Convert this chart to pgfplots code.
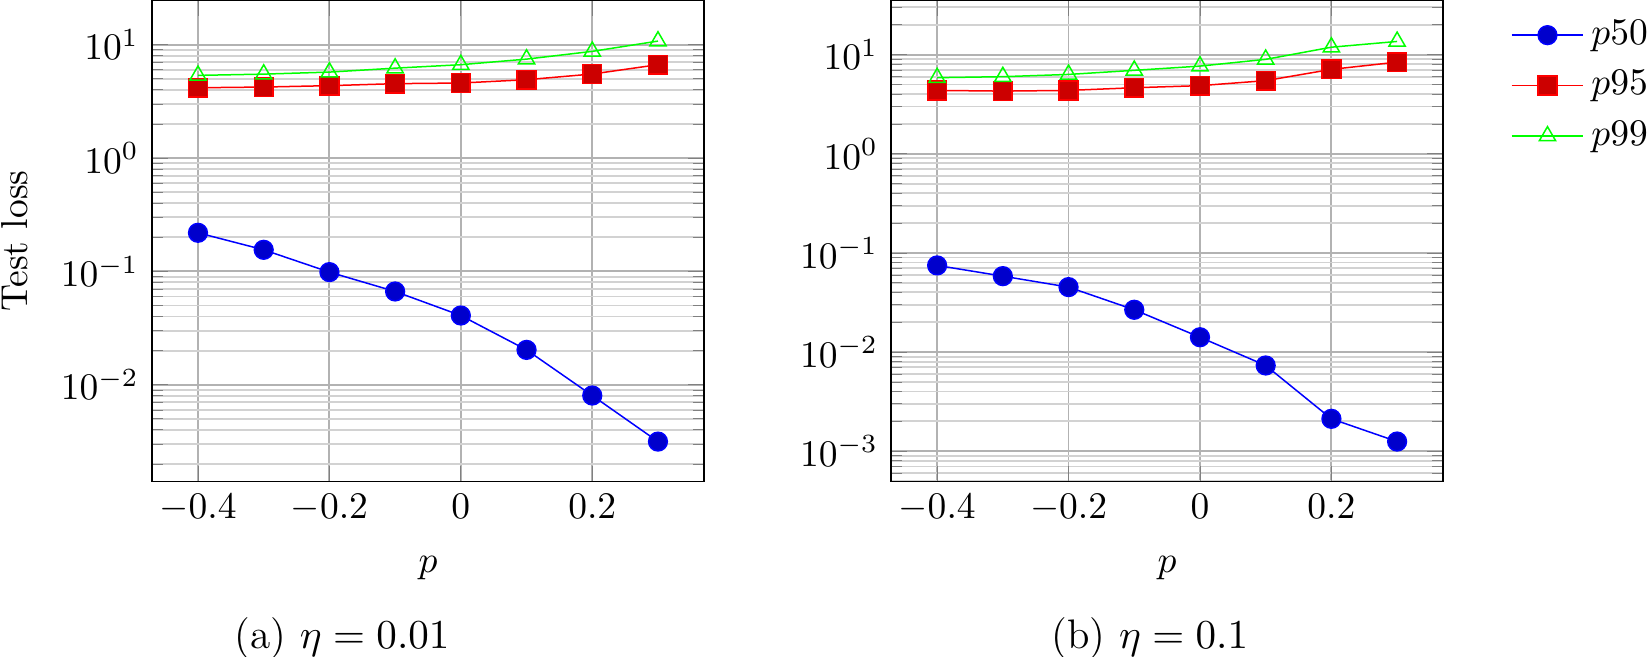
\documentclass[border=0pt]{standalone}
\usepackage{pgfplots}
\pgfplotsset{compat=1.18}
\begin{document}
\begin{tikzpicture}
\begin{axis}[ymode=log, scale only axis, width=147.2pt, height=128.3pt,
    xmin=-0.47, xmax=0.37, xtick={-0.4,-0.2,0,0.2},
    xmajorgrids, ymajorgrids, yminorgrids,
    major grid style={gray!60, line width=0.5pt},
    minor grid style={gray!35, line width=0.5pt},
    xlabel={$p$}, xlabel shift=2.2pt, ylabel shift=2pt,
    at={(0pt,0pt)}, anchor=south west, ymin=1.40e-3, ymax=24.6, ylabel={Test loss}]
\addplot[blue, mark=*, mark size=2.5pt, mark options={solid, fill=blue!80!black}] coordinates {(-0.4,0.219) (-0.3,0.155) (-0.2,0.0985) (-0.1,0.0665) (0,0.0408) (0.1,0.0203) (0.2,0.00803) (0.3,0.00315)};
\addplot[red, mark=square*, mark size=2.5pt, mark options={solid, fill=red!80!black}] coordinates {(-0.4,4.17) (-0.3,4.23) (-0.2,4.35) (-0.1,4.53) (0,4.59) (0.1,4.91) (0.2,5.51) (0.3,6.66)};
\addplot[green, mark=triangle, mark size=2.5pt, mark options={solid}] coordinates {(-0.4,5.36) (-0.3,5.5) (-0.2,5.73) (-0.1,6.21) (0,6.66) (0.1,7.46) (0.2,8.73) (0.3,10.76)};
\end{axis}
\begin{axis}[ymode=log, scale only axis, width=147.2pt, height=128.3pt,
    xmin=-0.47, xmax=0.37, xtick={-0.4,-0.2,0,0.2},
    xmajorgrids, ymajorgrids, yminorgrids,
    major grid style={gray!60, line width=0.5pt},
    minor grid style={gray!35, line width=0.5pt},
    xlabel={$p$}, xlabel shift=2.2pt,
    at={(197.1pt,0pt)}, anchor=south west, ymin=4.94e-4, ymax=35.3,
    legend style={at={(1,1)}, anchor=north west, xshift=14.9pt, yshift=-1.1pt, draw=none, fill=none, row sep=1.5pt},
    legend cell align=left,
    legend image code/.code={\draw[mark repeat=2,mark phase=2] plot coordinates {(0cm,0cm) (0.335cm,0cm) (0.67cm,0cm)};}]
\addplot[blue, mark=*, mark size=2.5pt, mark options={solid, fill=blue!80!black}] coordinates {(-0.4,0.0748) (-0.3,0.0583) (-0.2,0.0452) (-0.1,0.0267) (0,0.0141) (0.1,0.00732) (0.2,0.00212) (0.3,0.00125)};
\addplot[red, mark=square*, mark size=2.5pt, mark options={solid, fill=red!80!black}] coordinates {(-0.4,4.36) (-0.3,4.29) (-0.2,4.36) (-0.1,4.64) (0,4.87) (0.1,5.47) (0.2,7.11) (0.3,8.41)};
\addplot[green, mark=triangle, mark size=2.5pt, mark options={solid}] coordinates {(-0.4,5.86) (-0.3,6.0) (-0.2,6.32) (-0.1,6.95) (0,7.67) (0.1,8.97) (0.2,11.9) (0.3,13.6)};
\legend{$p50$,$p95$,$p99$}
\end{axis}
\node[font=\fontsize{11}{13}\selectfont, inner sep=0pt] at (50.7pt,-41.9pt) {(a) $\eta=0.01$};
\node[font=\fontsize{11}{13}\selectfont, inner sep=0pt] at (266.1pt,-41.9pt) {(b) $\eta=0.1$};
\pgfresetboundingbox
\useasboundingbox (-40.53pt,-46.53pt) rectangle (399.73pt,128.4pt);
\end{tikzpicture}
\end{document}
